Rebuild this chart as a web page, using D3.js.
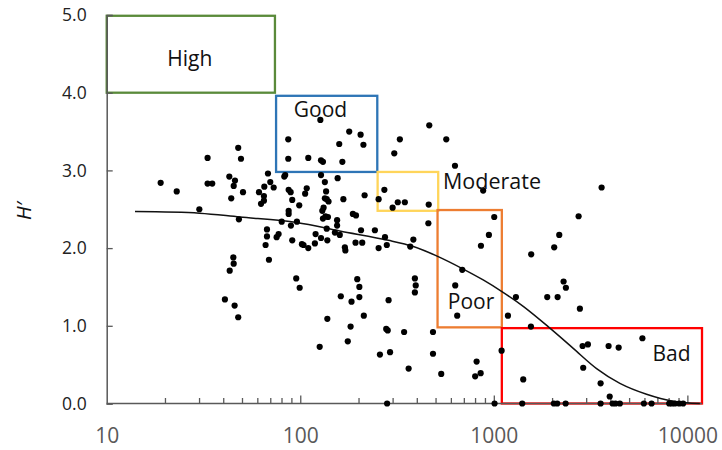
<!DOCTYPE html>
<html>
<head>
<meta charset="utf-8">
<script src="https://cdn.jsdelivr.net/npm/d3@7"></script>
<style>
  html, body { margin: 0; padding: 0; background: #fff; }
  svg { display: block; }
</style>
</head>
<body>
<div id="chart"></div>
<script>
// ---------------- DATA ----------------
const xTickLabels = [10, 100, 1000, 10000];
const yTickLabels = [0, 1, 2, 3, 4, 5];
const xAxisEnd = 11900;

// scatter points (x, H')
const pointX = [
  19.0, 23.0, 30.1, 33.2, 33.2, 35.1, 47.8, 49.4, 43.0, 46.0,
  45.3, 50.6, 44.0, 48.2, 45.1, 45.3, 43.2, 40.8, 45.8, 47.8,
  68.1, 70.0, 72.9, 65.2, 61.2, 64.9, 64.9, 62.7, 82.7, 83.6,
  87.1, 89.2, 90.9, 87.1, 87.1, 98.8, 108, 106, 80.2, 89.5,
  96.1, 67.3, 67.3, 66.2, 75.5, 77.3, 68.9, 90.9, 102, 104,
  110, 119, 120, 128, 138, 137, 95.3, 99.3, 86.7, 86.7,
  110, 127, 128, 131, 159, 165, 179, 205, 212, 128,
  134, 136, 134, 137, 140, 156, 132, 130, 135, 131,
  139, 155, 155, 151, 160, 167, 187, 194, 206, 193,
  209, 170, 171, 215, 243, 254, 274, 280, 197, 202,
  162, 184, 202, 138, 182, 213, 176, 126, 258, 278,
  283, 286, 281, 272, 254,
  464, 327, 568, 306, 630, 319, 347, 300, 461, 881,
  3605, 2742, 1005, 459, 943, 2178, 2051, 858, 1560, 384,
  370, 687, 391, 395, 391, 632, 2293, 2357, 1888, 2136,
  1301, 2784, 647, 1183, 1555, 344, 485, 2875, 3062, 3917,
  4416, 5857, 1097, 291, 485, 363, 535, 815, 801, 855,
  1419, 2896, 3562, 3969,
  1009, 1402, 2042, 2126, 2350, 3562, 4108, 4256, 4480, 5960,
  6531, 8054, 8318, 8619, 9071, 9508
];
const pointY = [
  2.84, 2.73, 2.50, 3.16, 2.83, 2.83, 3.29, 3.15, 2.92, 2.87,
  2.80, 2.72, 2.64, 2.37, 1.88, 1.80, 1.71, 1.34, 1.26, 1.11,
  2.96, 2.85, 2.78, 2.79, 2.72, 2.67, 2.61, 2.57, 2.92, 2.94,
  2.75, 2.72, 2.62, 2.48, 2.44, 2.55, 2.77, 2.70, 2.34, 2.29,
  2.34, 2.24, 2.15, 2.04, 2.14, 2.18, 1.85, 2.10, 2.05, 2.04,
  2.00, 2.06, 2.18, 2.13, 2.10, 2.25, 1.61, 1.49, 3.40, 3.15,
  3.16, 3.65, 3.13, 3.11, 3.34, 3.11, 3.50, 3.46, 3.33, 2.94,
  2.85, 2.73, 2.64, 2.63, 2.60, 2.90, 2.52, 2.48, 2.41, 2.38,
  2.40, 2.36, 2.29, 2.20, 2.17, 2.63, 2.44, 2.42, 2.23, 2.07,
  2.07, 2.01, 1.97, 2.68, 2.23, 2.00, 2.14, 2.04, 1.60, 1.50,
  1.38, 1.31, 1.37, 1.09, 0.99, 1.13, 0.80, 0.73, 0.63, 0.96,
  0.94, 1.33, 0.00, 2.75, 2.63,
  3.58, 3.40, 3.40, 3.22, 3.06, 2.59, 2.59, 2.52, 2.56, 2.74,
  2.78, 2.41, 2.40, 2.32, 2.17, 2.17, 2.01, 2.03, 1.92, 2.11,
  2.02, 1.72, 1.61, 1.52, 1.43, 1.52, 1.57, 1.49, 1.37, 1.37,
  1.37, 1.22, 1.13, 1.13, 0.99, 0.92, 0.92, 0.74, 0.76, 0.74,
  0.72, 0.84, 0.68, 0.66, 0.64, 0.45, 0.38, 0.54, 0.35, 0.39,
  0.31, 0.46, 0.26, 0.09,
  0, 0, 0, 0, 0, 0, 0, 0, 0, 0,
  0, 0, 0, 0, 0, 0
];

// fitted curve
const curveX = [14.0, 30.1, 48.8, 95.8, 160, 285, 384, 516, 695, 881, 1101, 1419, 1949, 2572, 3396, 4480, 6152, 8447, 11600];
const curveY = [2.47, 2.45, 2.40, 2.33, 2.22, 2.10, 2.02, 1.89, 1.73, 1.59, 1.44, 1.25, 0.97, 0.71, 0.45, 0.26, 0.12, 0.03, 0.00];

// status classes (boxes)
const classNames = ["High", "Good", "Moderate", "Poor", "Bad"];
const classXMin  = [10, 75, 251, 512, 1100];
const classXMax  = [74, 250, 516, 1100, 11900];
const classYMin  = [4.00, 2.98, 2.48, 0.98, 0.00];
const classYMax  = [4.99, 3.96, 2.98, 2.49, 0.97];

// ---------------- STYLE ----------------
const classColors = ["#5a8a3a", "#2e75b6", "#ffd55a", "#ed7d31", "#ff0000"];
const W = 722, H = 450;
const margin = { left: 106.7, top: 15, bottom: 46.5 };

const svg = d3.select("#chart").append("svg")
  .attr("width", W).attr("height", H);

const x = d3.scaleLog().domain([10, xAxisEnd]).range([106.7, 702]);
const y = d3.scaleLinear().domain([0, 5]).range([403.5, 15]);

// boxes
const boxG = svg.append("g");
classNames.forEach((n, i) => {
  boxG.append("rect")
    .attr("x", x(classXMin[i]))
    .attr("y", y(classYMax[i]))
    .attr("width", x(classXMax[i]) - x(classXMin[i]))
    .attr("height", y(classYMin[i]) - y(classYMax[i]))
    .attr("fill", "none")
    .attr("stroke", classColors[i])
    .attr("stroke-width", 2.3);
});

// axes
const axisColor = "#595959";
const yAxis = d3.axisLeft(y).tickValues(yTickLabels).tickSize(-6).tickPadding(20)
  .tickFormat(d3.format(".1f"));
const gy = svg.append("g").attr("transform", `translate(${x(10)},0)`).call(yAxis);
gy.select(".domain").attr("stroke", axisColor).attr("stroke-width", 1.5);
gy.selectAll(".tick line").attr("stroke", axisColor).attr("stroke-width", 1.3);
gy.selectAll(".tick text")
  .attr("font-family", "'Open Sans', sans-serif").attr("font-size", 17.5)
  .attr("fill", "#222").attr("x", -20);

// x axis: minor ticks
const minor = [];
for (let dec = 10; dec < xAxisEnd; dec *= 10) {
  for (let k = 2; k <= 9; k++) if (dec * k < xAxisEnd) minor.push(dec * k);
}
const xAxis = d3.axisBottom(x).tickValues(minor).tickSize(-5.5).tickFormat("");
const gx = svg.append("g").attr("transform", `translate(0,${y(0)})`).call(xAxis);
gx.select(".domain").attr("stroke", axisColor).attr("stroke-width", 1.5)
  .attr("d", `M${x(10)},0H${x(xAxisEnd)}`);
gx.selectAll(".tick line").attr("stroke", axisColor).attr("stroke-width", 1.3);

const xMajor = d3.axisBottom(x).tickValues(xTickLabels).tickSize(-8).tickPadding(0)
  .tickFormat(d3.format("d"));
const gx2 = svg.append("g").attr("transform", `translate(0,${y(0)})`).call(xMajor);
gx2.select(".domain").remove();
gx2.selectAll(".tick line").attr("stroke", axisColor).attr("stroke-width", 1.3)
  .filter(d => d === 10).remove();
gx2.selectAll(".tick text")
  .attr("font-family", "'Open Sans', sans-serif").attr("font-size", 21)
  .attr("fill", "#595959").attr("dy", null).attr("y", 39.5);

// curve
const curveData = curveX.map((v, i) => [v, curveY[i]]);
svg.append("path")
  .datum(curveData)
  .attr("fill", "none")
  .attr("stroke", "#111")
  .attr("stroke-width", 1.5)
  .attr("d", d3.line().x(d => x(d[0])).y(d => y(d[1])).curve(d3.curveCatmullRom.alpha(0.5)));

// points
const pts = pointX.map((v, i) => [v, pointY[i]]);
svg.append("g").selectAll("circle").data(pts).join("circle")
  .attr("cx", d => x(d[0])).attr("cy", d => y(d[1]))
  .attr("r", 3.1).attr("fill", "#000");

// class labels
const labelFont = "'Open Sans', sans-serif";
const labelPos = [
  { dx: 0.5, anchor: "middle", px: null },
];
// High: centered in its box
svg.append("text").text(classNames[0])
  .attr("x", (x(classXMin[0]) + x(classXMax[0])) / 2 - 1)
  .attr("y", 66).attr("text-anchor", "middle")
  .attr("font-family", labelFont).attr("font-size", 21).attr("fill", "#111");
// Good
svg.append("text").text(classNames[1])
  .attr("x", 320.5).attr("y", 116.5).attr("text-anchor", "middle")
  .attr("font-family", labelFont).attr("font-size", 21).attr("fill", "#111");
// Moderate
svg.append("text").text(classNames[2])
  .attr("x", 443).attr("y", 188.5).attr("text-anchor", "start")
  .attr("font-family", labelFont).attr("font-size", 21.5).attr("fill", "#111");
// Poor
svg.append("text").text(classNames[3])
  .attr("x", 471).attr("y", 309).attr("text-anchor", "middle")
  .attr("font-family", labelFont).attr("font-size", 21).attr("fill", "#111");
// Bad
svg.append("text").text(classNames[4])
  .attr("x", 671.5).attr("y", 360.5).attr("text-anchor", "middle")
  .attr("font-family", labelFont).attr("font-size", 21).attr("fill", "#111");

// y-axis title
svg.append("text").text("H′")
  .attr("transform", "translate(31,211) rotate(-90)")
  .attr("text-anchor", "middle")
  .attr("font-family", labelFont).attr("font-style", "italic")
  .attr("font-size", 20).attr("fill", "#111");
</script>
</body>
</html>
